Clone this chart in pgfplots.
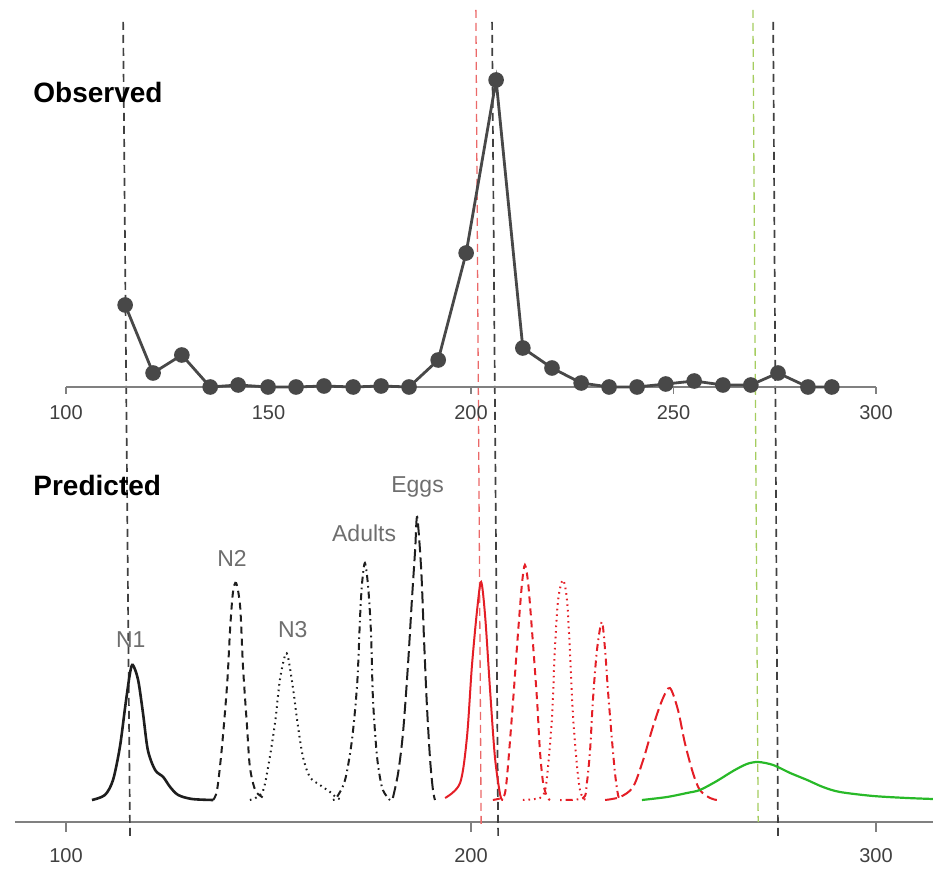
\documentclass[border=0pt]{standalone}
\usepackage{fontspec}
\setmainfont{Liberation Sans}
\usepackage{pgfplots}
\pgfplotsset{compat=1.18}
\definecolor{obsgray}{RGB}{72,72,72}
\definecolor{axgray}{RGB}{128,128,128}
\definecolor{lblgray}{RGB}{110,110,110}
\definecolor{predred}{RGB}{228,30,38}
\definecolor{predgreen}{RGB}{40,185,40}
\definecolor{vred}{RGB}{235,105,105}
\definecolor{vgreen}{RGB}{165,205,95}
\definecolor{curveblk}{RGB}{30,30,30}

\tikzset{
  ltydash/.style={dash pattern=on 3.5pt off 2.5pt},
  ltydot/.style={dash pattern=on 0.8pt off 2pt},
  ltydotdash/.style={dash pattern=on 0.8pt off 2pt on 3.5pt off 2pt},
  ltylong/.style={dash pattern=on 6pt off 2.5pt},
  vline/.style={line width=0.85pt, dash pattern=on 4pt off 2.5pt},
}

\pgfplotsset{panel/.style={
  x=2.025pt, y=0.5pt, clip=false, anchor=south west,
  axis x line=bottom, axis y line=none,
  axis line style={-, axgray, line width=0.9pt},
  tick align=outside, tick style={axgray, line width=0.9pt},
  /pgf/number format/assume math mode=true,
  ticklabel style={font=\fontsize{10}{12}\selectfont, text=black!75},
  ytick=\empty,
}}

\begin{document}
\begin{tikzpicture}
\useasboundingbox (0,0) rectangle (466.5pt,434.5pt);

% predicted panel (drawn first so the observed points sit on top of the guide lines)
\begin{axis}[panel, at={(7.5pt,23.5pt)},
  xmin=87.4, xmax=314.1, ymin=-22, ymax=790,
  xtick={100,200,300}, major tick length=5pt,
  xticklabel style={yshift=-4.5pt}]
  % guide lines through both panels
  \addplot[vline, curveblk!85] coordinates {(114.1,778) (115.8,-38)};
  \addplot[vline, vred, line width=0.65pt] coordinates {(201.2,790) (202.5,-25)};
  \addplot[vline, curveblk!85] coordinates {(205.2,778) (206.7,-38)};
  \addplot[vline, vgreen, line width=0.65pt] coordinates {(269.6,790) (270.9,-22)};
  \addplot[vline, curveblk!85] coordinates {(274.6,778) (275.8,-38)};

  % black stages
  \addplot[curveblk, line width=1.3pt, smooth] coordinates {
    (106.4,0) (109.6,5) (111.6,20) (113.3,53) (114.6,93) (115.8,127) (116.5,135)
    (117.8,120) (119.0,87) (120.2,50) (122.0,30) (124.0,23) (125.7,13) (127.7,5)
    (131.1,1) (136.3,0)};
  \addplot[curveblk, line width=1pt, ltydash, smooth] coordinates {
    (136.3,0) (137.3,10) (138.5,53) (139.8,117) (140.5,170) (141.2,207) (142.0,217)
    (143.0,193) (143.7,133) (144.7,73) (145.4,33) (146.7,10) (148.4,3) (149.6,0)};
  \addplot[curveblk, line width=1pt, ltydot, smooth] coordinates {
    (145.4,0) (148.4,7) (149.9,33) (151.6,77) (152.8,120) (154.1,145) (154.8,143)
    (156.0,113) (157.3,73) (158.5,43) (160.2,23) (162.7,15) (165.2,8) (166.9,2) (168.4,0)};
  \addplot[curveblk, line width=1pt, ltydotdash, smooth] coordinates {
    (165.9,0) (166.9,3) (168.9,20) (170.6,60) (171.9,117) (172.6,183) (173.1,217)
    (173.8,237) (174.6,213) (175.3,167) (175.8,100) (176.8,43) (178.0,13) (179.3,3) (180.0,0)};
  \addplot[curveblk, line width=1pt, ltylong, smooth] coordinates {
    (180.7,2) (182.0,27) (183.2,67) (184.4,133) (185.4,200) (186.2,250) (186.7,283)
    (187.7,230) (188.4,160) (189.1,95) (189.9,40) (190.6,10) (191.1,0)};

  % red stages
  \addplot[predred, line width=1pt, smooth] coordinates {
    (193.6,2) (197.3,17) (199.0,63) (200.2,133) (201.5,190) (202.5,218) (203.5,183)
    (204.7,110) (205.9,43) (207.2,5) (207.9,0)};
  \addplot[predred, line width=1pt, ltydash, smooth] coordinates {
    (205.4,0) (207.4,2) (208.4,7) (209.1,33) (210.4,100) (211.6,167) (212.6,217)
    (213.3,235) (214.1,217) (215.1,167) (216.3,100) (217.0,50) (217.8,17) (218.8,3) (219.5,0)};
  \addplot[predred, line width=1pt, ltydot, smooth] coordinates {
    (212.8,0) (217.0,2) (218.3,10) (219.0,33) (220.0,83) (220.7,150) (221.5,200)
    (222.7,220) (223.7,200) (224.4,150) (225.2,83) (226.2,33) (226.9,10) (227.7,2) (228.4,0)};
  \addplot[predred, line width=1pt, ltydotdash, smooth] coordinates {
    (222.0,0) (227.7,2) (228.6,17) (229.4,50) (230.1,100) (231.1,150) (232.3,178)
    (233.1,150) (233.8,110) (234.8,60) (235.6,25) (236.3,5) (236.8,0)};
  \addplot[predred, line width=1pt, ltylong, smooth] coordinates {
    (233.1,0) (236.8,3) (240.0,13) (242.5,40) (244.9,73) (247.2,100) (249.1,112)
    (251.1,90) (252.8,57) (254.8,27) (256.5,10) (259.0,2) (260.7,0)};

  % green stage
  \addplot[predgreen, line width=1.1pt, smooth] coordinates {
    (242.2,0) (248.4,3) (253.3,7) (256.5,10) (260.7,19) (264.7,29) (268.1,36)
    (270.9,38) (274.6,35) (278.8,27) (283.0,20) (286.9,13) (291.1,8) (299.3,4)
    (307.7,2) (314.1,1)};

  \begin{scope}[every node/.style={text=lblgray, font=\fontsize{11.5}{13}\selectfont}]
    \node at (axis cs:116.0,160) {N1};
    \node at (axis cs:141.0,242) {N2};
    \node at (axis cs:156.0,170) {N3};
    \node at (axis cs:173.6,267) {Adults};
    \node at (axis cs:186.8,313) {Eggs};
  \end{scope}
  \node[anchor=west, inner xsep=0pt, font=\bfseries\fontsize{14}{16}\selectfont] at (axis cs:91.85,315) {Predicted};
\end{axis}

% observed panel
\begin{axis}[panel, at={(33pt,241pt)},
  xmin=100, xmax=300, ymin=0, ymax=310,
  xtick={100,150,200,250,300}, major tick length=3.5pt,
  xticklabel style={yshift=-2pt}]
  \addplot[obsgray, line width=1.4pt, mark=*, mark size=3.2pt] coordinates {
    (114.6,82) (121.5,14) (128.6,32) (135.6,0) (142.5,2) (149.9,0) (156.8,0)
    (163.7,1) (170.9,0) (177.8,1) (184.7,0) (191.9,27) (198.8,134) (206.2,307)
    (212.8,39) (220.0,19) (227.2,4) (234.1,0) (241.0,0) (248.1,3) (255.1,6)
    (262.2,2) (269.1,2) (275.8,14) (283.2,0) (289.1,0)};
  \node[anchor=west, inner xsep=0pt, font=\bfseries\fontsize{14}{16}\selectfont] at (axis cs:91.85,295) {Observed};
\end{axis}
\end{tikzpicture}
\end{document}
